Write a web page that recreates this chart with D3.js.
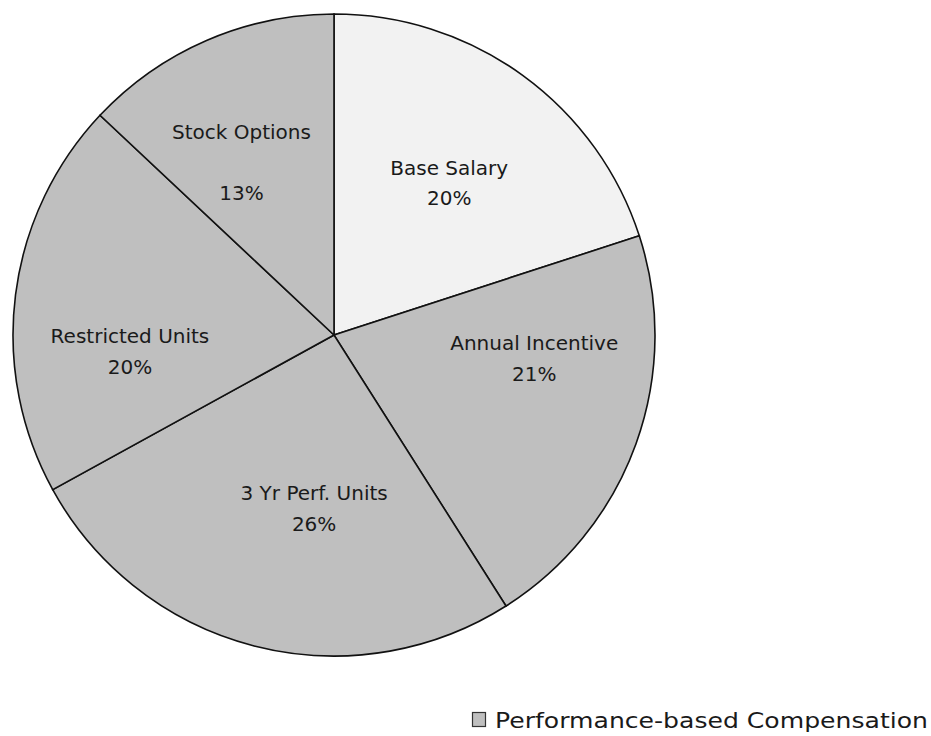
<!DOCTYPE html>
<html>
<head>
<meta charset="utf-8">
<script src="https://cdn.jsdelivr.net/npm/d3@7/dist/d3.min.js"></script>
<style>
  body { margin: 0; background: #fff; }
  text { font-family: "DejaVu Sans", sans-serif; fill: #1a1a1a; }
</style>
</head>
<body>
<div id="app"></div>
<script>
// slices, clockwise from 12 o'clock
var categories = ["Base Salary", "Annual Incentive", "3 Yr Perf. Units", "Restricted Units", "Stock Options"];
var values = [20, 21, 26, 20, 13];
var performanceBased = [false, true, true, true, true];
var legendLabels = ["Performance-based Compensation"];

var width = 931, height = 736;
var cx = 334, cy = 335, r = 321;

// excel nudges its labels a bit, these are hand tweaks (dx, dy, gap between lines)
var labelNudge = {
  "Base Salary": [2, 4, 30],
  "Annual Incentive": [19, -42, 31],
  "3 Yr Perf. Units": [28, -13, 31],
  "Restricted Units": [-13, 41, 31],
  "Stock Options": [-16, 4, 61]
};

var svg = d3.select('#app').append('svg')
  .attr('width', width)
  .attr('height', height);

var pie = d3.pie().sort(null).value(function(d) { return d.value; });
var data = categories.map(function(c, i) {
  return { name: c, value: values[i], perf: performanceBased[i] };
});
var arcs = pie(data);

var arc = d3.arc().innerRadius(0).outerRadius(r);
var labelArc = d3.arc().innerRadius(r * 0.6).outerRadius(r * 0.6);

var g = svg.append('g').attr('transform', 'translate(' + cx + ',' + cy + ')');

g.selectAll('path.slice').data(arcs).enter().append('path')
  .attr('class', 'slice')
  .attr('d', arc)
  .attr('fill', function(d) { return d.data.perf ? '#bfbfbf' : '#f2f2f2'; })
  .attr('stroke', '#111')
  .attr('stroke-width', 1.6);

var labels = g.selectAll('g.lbl').data(arcs).enter().append('g')
  .attr('class', 'lbl')
  .attr('transform', function(d) {
    var c = labelArc.centroid(d);
    var n = labelNudge[d.data.name] || [0, 0, 30];
    return 'translate(' + (c[0] + n[0]) + ',' + (c[1] + n[1]) + ')';
  });

labels.append('text')
  .attr('text-anchor', 'middle')
  .attr('font-size', 20)
  .attr('y', function(d) { return -(labelNudge[d.data.name][2] / 2) + 7; })
  .text(function(d) { return d.data.name; });

labels.append('text')
  .attr('text-anchor', 'middle')
  .attr('font-size', 20)
  .attr('y', function(d) { return (labelNudge[d.data.name][2] / 2) + 7; })
  .text(function(d) { return d.data.value + '%'; });

// legend, bottom right
var legend = svg.append('g').attr('transform', 'translate(472,712)');
legend.selectAll('rect').data(legendLabels).enter().append('rect')
  .attr('x', 0.5).attr('y', 0.5)
  .attr('width', 13).attr('height', 14)
  .attr('fill', '#bfbfbf')
  .attr('stroke', '#333')
  .attr('stroke-width', 1.2);
legend.selectAll('text').data(legendLabels).enter().append('text')
  .attr('x', 23).attr('y', 16)
  .attr('font-family', '"Open Sans", sans-serif')
  .attr('font-size', 22)
  .attr('textLength', 433)
  .attr('lengthAdjust', 'spacingAndGlyphs')
  .text(function(d) { return d; });
</script>
</body>
</html>
